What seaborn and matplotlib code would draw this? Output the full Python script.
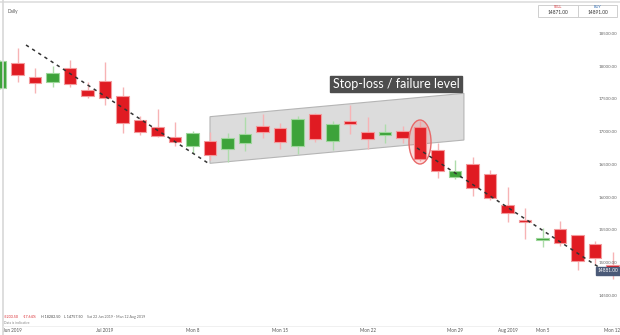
import numpy as np
import pandas as pd
import matplotlib
matplotlib.use("Agg")
import matplotlib.pyplot as plt
from matplotlib.patches import Polygon, Ellipse, Rectangle
import seaborn as sns

# ---------------- data ----------------
dates = pd.bdate_range("2019-06-21", "2019-08-09")
opens = [17674, 18052, 17843, 17771, 17985, 17639, 17786, 17557, 17180, 17078,
         16920, 16792, 16868, 16737, 16833, 17098, 17058, 16792, 17277, 16864,
         17165, 17001, 16960, 17022, 17073, 16722, 16309, 16508, 16355, 15890,
         15661, 15346, 15518, 15422, 15294, 14963]
highs = [18095, 18282.5, 17985, 18011, 18102, 17771, 18067, 17685, 17246, 17349,
         17154, 17021, 17006, 16982, 17226, 17281, 17139, 17246, 17292, 17174,
         17419, 17226, 17119, 17093, 17165, 16841, 16573, 16615, 16416, 16161,
         15844, 15534, 15641, 15427, 15335, 15171]
lows = [17660, 17771, 17602, 17694, 17685, 17521, 17414, 16982, 16951, 16920,
        16787, 16685, 16573, 16547, 16711, 16905, 16746, 16670, 16844, 16722,
        16966, 16737, 16838, 16838, 16558, 16303, 16278, 16018, 15957, 15625,
        15361, 15238, 15258, 14891, 14988, 14757.5]
closes = [18084.5, 17873, 17746, 17899, 17731, 17552, 17517, 17139, 17006, 16945,
          16844, 16991, 16650, 16914, 16966, 16997, 16844, 17200, 16890, 17119,
          17124, 16894, 16997, 16910, 16593, 16413, 16405, 16145, 15992, 15763,
          15621, 15381, 15304, 15029, 15080, 14881]

y_ticks = [14500, 15000, 15500, 16000, 16500, 17000, 17500, 18000, 18500]
x_tick_labels = ["Jun 2019", "Jul 2019", "Mon 8", "Mon 15", "Mon 22", "Mon 29",
                 "Aug 2019", "Mon 5", "Mon 12"]
x_tick_idx = [0.17, 6, 11, 16, 21, 26, 29, 31, 35.4]

# trend lines (index, price)
trend1_x = [1.486, 11.886]
trend1_y = [18332, 16527]
trend2_x = [23.83, 34.29]
trend2_y = [16757, 14922]
# channel polygon corners
channel_x = [12.0, 26.51, 26.51, 12.0]
channel_y = [17236, 17593, 16879, 16523]

sell_price = "14871.00"
buy_price = "14891.00"
last_price = 14881.00
stats = ["-3203.50", "-17.64%", "H 18282.50", "L 14757.50",
         "Sat 22 Jun 2019 - Mon 12 Aug 2019"]

# ---------------- style ----------------
sns.set_theme(style="white")
plt.rcParams["font.family"] = ["Lato", "DejaVu Sans"]

fig = plt.figure(figsize=(6.2, 3.35), dpi=100)
ax = fig.add_axes([0, 0, 1, 1])
ax.set_xlim(0, 620 / 17.5)
ax.set_ylim(13898, 19020)
ax.axis("off")

df = pd.DataFrame({"date": dates, "open": opens, "high": highs,
                   "low": lows, "close": closes})
df["idx"] = np.arange(len(df))
df["up"] = df["close"] >= df["open"]

red, red_edge, red_wick = "#e01b22", "#f39a9c", "#f7b3b5"
green, green_edge, green_wick = "#3da33a", "#9dd69a", "#aedcab"

# channel
ax.add_patch(Polygon(list(zip(channel_x, channel_y)), closed=True,
                     facecolor="#dcdcdc", edgecolor="#b5b5b5", lw=0.8, zorder=1))

# wicks
for up, wc in [(True, green_wick), (False, red_wick)]:
    sub = df[df["up"] == up]
    ax.vlines(sub["idx"], sub["low"], sub["high"], color=wc, lw=1.0, zorder=2)

# bodies
min_h = 38
for up, fc, ec in [(True, green, green_edge), (False, red, red_edge)]:
    sub = df[df["up"] == up]
    bottom = np.minimum(sub["open"], sub["close"])
    height = np.maximum((sub["close"] - sub["open"]).abs(), min_h)
    ax.bar(sub["idx"], height, bottom=bottom, width=0.71, color=fc,
           edgecolor=ec, linewidth=0.8, zorder=3)

# trend lines
trend = pd.DataFrame({"x": trend1_x + trend2_x, "y": trend1_y + trend2_y,
                      "seg": ["a", "a", "b", "b"]})
for seg, g in trend.groupby("seg"):
    ax.plot(g["x"], g["y"], color="#333333", lw=1.1, ls=(0, (2.2, 2.6)),
            zorder=5)

# ellipse around breakdown candle
ax.add_patch(Ellipse((24, 16849), 1.26, 673, facecolor=(0.93, 0.3, 0.3, 0.18),
                     edgecolor="#e86a6a", lw=1.0, zorder=4))

# annotation label
ax.text(22.63, 17735, "Stop-loss / failure level", ha="center", va="center",
        fontsize=9.0, color="white", zorder=6,
        bbox=dict(boxstyle="square,pad=0.18", facecolor="#4d4d4d",
                  edgecolor="#4d4d4d"))

# y tick labels (right side, inside)
xr = 617 / 17.5
for t in y_ticks:
    ax.text(xr, t, f"{t:.2f}", ha="right", va="center", fontsize=3.2,
            color="#666666", zorder=6)

# last price tag
ax.text(608 / 17.5, last_price, f"{last_price:.2f}", ha="center", va="center",
        fontsize=3.4, color="white", zorder=7,
        bbox=dict(boxstyle="square,pad=0.35", facecolor="#4b5a78",
                  edgecolor="#4b5a78"))

# x tick labels
n = len(x_tick_labels)
for k, (xi, lab) in enumerate(zip(x_tick_idx, x_tick_labels)):
    ha = "left" if k == 0 else ("right" if k == n - 1 else "center")
    ax.text(xi, 0.005, lab, transform=ax.get_xaxis_transform(), ha=ha,
            va="bottom", fontsize=3.3, color="#555555")

# frame decorations (figure pixel coords)
W, H = 620, 335
def fx(px):
    return px / W
def fy(py):
    return 1 - py / H

fig.add_artist(plt.Line2D([fx(0), fx(620)], [fy(1.5), fy(1.5)], color="#dedede", lw=1.2))
fig.add_artist(plt.Line2D([fx(2.5), fx(2.5)], [fy(0), fy(335)], color="#d8d8d8", lw=1.2))
fig.add_artist(plt.Line2D([fx(3), fx(620)], [fy(326), fy(326)], color="#eeeeee", lw=0.6))

fig.text(fx(8), fy(11), "Daily", fontsize=3.4, color="#555555", va="center")

# sell / buy box
fig.add_artist(Rectangle((fx(538), fy(16.7)), fx(79), 12 / H, transform=fig.transFigure,
                         facecolor="white", edgecolor="#cfcfcf", lw=0.7))
fig.add_artist(plt.Line2D([fx(578), fx(578)], [fy(4.7), fy(16.7)], color="#cfcfcf", lw=0.7))
fig.text(fx(558), fy(7.5), "SELL", fontsize=2.8, color="#d9262c", ha="center", va="center")
fig.text(fx(558), fy(13), sell_price, fontsize=3.4, color="#333333", ha="center", va="center")
fig.text(fx(598), fy(7.5), "BUY", fontsize=2.8, color="#2f6db5", ha="center", va="center")
fig.text(fx(598), fy(13), buy_price, fontsize=3.4, color="#333333", ha="center", va="center")

# stats line, laid out left to right without overlap
stat_c = ["#d9262c", "#d9262c", "#444444", "#444444", "#666666"]
fig.canvas.draw()
renderer = fig.canvas.get_renderer()
cur = 4.0
for s, c in zip(stats, stat_c):
    t = fig.text(fx(cur), fy(317), s, fontsize=2.6, color=c, va="center")
    bb = t.get_window_extent(renderer=renderer)
    cur += bb.width + 4
fig.text(fx(4), fy(322.5), "Data is indicative", fontsize=2.4, color="#888888", va="center")

fig.savefig("out.png", dpi=100)
